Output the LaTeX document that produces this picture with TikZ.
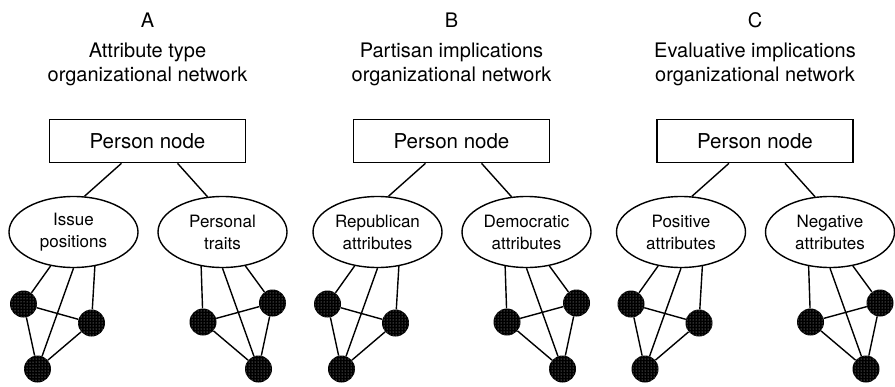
\documentclass[tikz,border=0pt]{standalone}
\usepackage{fontspec}
\setmainfont{TeX Gyre Heros}
\usetikzlibrary{calc,patterns,shapes.geometric}
\begin{document}
\begin{tikzpicture}[x=1pt,y=-1pt,
  titletext/.style={font=\fontsize{20}{24}\selectfont, anchor=base, inner sep=0pt},
  personbox/.style={draw, line width=1.6pt, minimum width=196pt, minimum height=43pt, inner sep=0pt, font=\fontsize{20.5}{24}\selectfont},
  attr/.style={draw, ellipse, line width=1.4pt, minimum width=129pt, minimum height=71pt, inner sep=0pt, align=center, font=\fontsize{17}{22}\selectfont},
  dotnode/.style={circle, minimum size=27pt, inner sep=0pt, fill=black, postaction={pattern=dots, pattern color=white!75!black}},
  link/.style={line width=1.4pt}]
\useasboundingbox (0,0) rectangle (895,386);
\foreach \p/\cx/\la/\lb/\ea/\eb in {
  A/147.5/{Attribute type}/{organizational network}/{Issue\\positions}/{Personal\\traits},
  B/451.5/{Partisan implications}/{organizational network}/{Republican\\attributes}/{Democratic\\attributes},
  C/755/{Evaluative implications}/{organizational network}/{Positive\\attributes}/{Negative\\attributes}}{
  \node[titletext] (tl\p) at (\cx,27) {\p};
  \node[titletext] (ta\p) at (\cx,57) {\la};
  \node[titletext] (tb\p) at (\cx,81) {\lb};
  \node[personbox] (box\p) at (\cx,141) {Person node};
  \node[attr] (elL\p) at ({\cx-74},232) {\ea};
  \node[attr] (elR\p) at ({\cx+75},232) {\eb};
  \node[dotnode] (d1\p) at ({\cx-124},304) {};
  \node[dotnode] (d2\p) at ({\cx-56},323) {};
  \node[dotnode] (d3\p) at ({\cx-110},369) {};
  \node[dotnode] (d4\p) at ({\cx+55.5},322) {};
  \node[dotnode] (d5\p) at ({\cx+125},303) {};
  \node[dotnode] (d6\p) at ({\cx+111},369) {};
  \draw[link] ($(box\p.south)+(-26,0)$) -- (elL\p.73);
  \draw[link] ($(box\p.south)+(30,0)$) -- (elR\p.113);
  \draw[link] (elL\p.236) -- (d1\p);
  \draw[link] (elL\p.south) -- (d3\p);
  \draw[link] (elL\p.302) -- (d2\p);
  \draw[link] (elR\p.238) -- (d4\p);
  \draw[link] (elR\p.south) -- (d6\p);
  \draw[link] (elR\p.304) -- (d5\p);
  \draw[link] (d1\p) -- (d2\p);
  \draw[link] (d1\p) -- (d3\p);
  \draw[link] (d2\p) -- (d3\p);
  \draw[link] (d4\p) -- (d5\p);
  \draw[link] (d4\p) -- (d6\p);
  \draw[link] (d5\p) -- (d6\p);
}
\end{tikzpicture}
\end{document}
